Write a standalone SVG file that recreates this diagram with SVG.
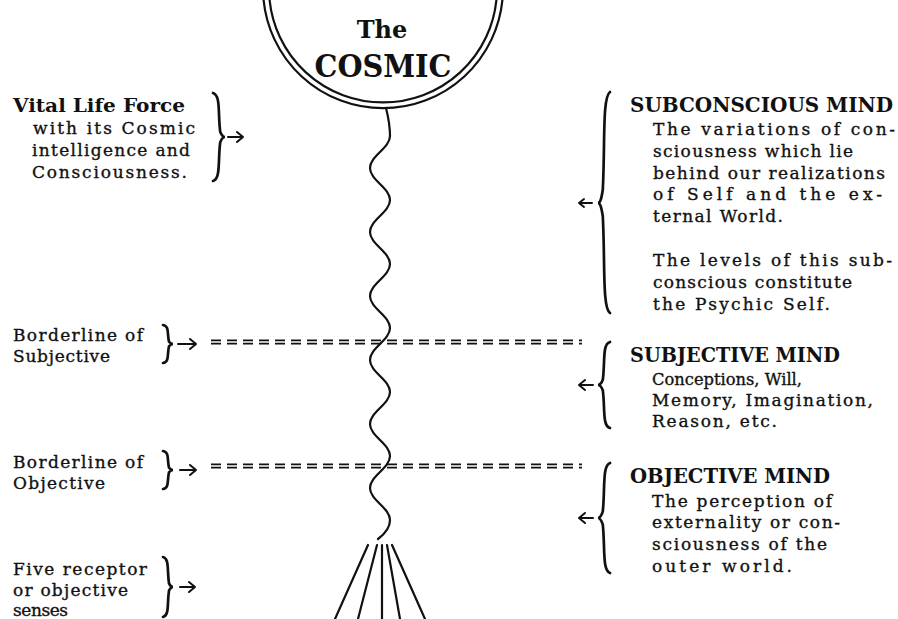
<svg xmlns="http://www.w3.org/2000/svg" width="898" height="619" viewBox="0 0 898 619">
<style>
text{font-family:"DejaVu Serif","Liberation Serif",serif;fill:#111}
.h{font-weight:bold}
.b{font-size:17px;stroke:#111;stroke-width:0.35}
.ln{fill:none;stroke:#111;stroke-width:2.2;stroke-linecap:round;stroke-linejoin:round}
.br{fill:none;stroke:#111;stroke-width:2.7;stroke-linecap:round}
.ar{fill:none;stroke:#111;stroke-width:2;stroke-linecap:round;stroke-linejoin:round}
.dl{fill:none;stroke:#111;stroke-width:1.7;stroke-dasharray:10 6}
</style>
<rect width="898" height="619" fill="#fff"/>

<g id="cosmic">
<path class="ln" d="M263.4,-2 A120,120 0 0 0 502.6,-2"/>
<path class="ln" d="M269.4,-2 A114,114 0 0 0 496.6,-2"/>
<text class="h" x="382" y="38" font-size="24" text-anchor="middle">The</text>
<text class="h" x="383" y="77" font-size="31" text-anchor="middle" textLength="137" lengthAdjust="spacingAndGlyphs">COSMIC</text>
</g>

<g id="vital-life-force">
<text class="h" x="13" y="112" font-size="19" textLength="172" lengthAdjust="spacingAndGlyphs">Vital Life Force</text>
<text class="b" x="33" y="134" textLength="162">with its Cosmic</text>
<text class="b" x="32" y="156" textLength="158">intelligence and</text>
<text class="b" x="32" y="178" textLength="155">Consciousness.</text>
<path class="br" d="M213,93 C220.8,95.2 217.8,112.8 220.2,131.7 C221.4,134.8 222.6,137 225,137 C222.6,137 221.4,139.2 220.2,142.3 C217.8,161.2 220.8,178.8 213,181"/>
</g>

<g id="borderline-subjective">
<text class="b" x="13" y="341" textLength="130">Borderline of</text>
<text class="b" x="13" y="362" textLength="97">Subjective</text>
<path class="br" d="M163,325 C169.5,326 167,333.6 169,341.7 C170,343 171,344 173,344 C171,344 170,345 169,346.3 C167,354.5 169.5,362 163,363"/>
</g>

<g id="borderline-objective">
<text class="b" x="13" y="468" textLength="130">Borderline of</text>
<text class="b" x="13" y="489" textLength="92">Objective</text>
<path class="br" d="M163,451 C169.5,452 167,459.6 169,467.7 C170,469 171,470 173,470 C171,470 170,471 169,472.3 C167,480.5 169.5,488 163,489"/>
</g>

<g id="five-senses">
<text class="b" x="13" y="575" textLength="134">Five receptor</text>
<text class="b" x="13" y="596" textLength="115">or objective</text>
<text class="b" x="13" y="616" textLength="55">senses</text>
<path class="br" d="M163,557 C169.5,558.5 167,570.5 169,583.4 C170,585.5 171,587 173,587 C171,587 170,588.5 169,590.6 C167,603.5 169.5,615.5 163,617"/>
</g>

<g id="subconscious-mind">
<path class="br" d="M610,92 C602.2,97.6 605.2,142 602.8,189.7 C601.6,197.5 600.4,203 598,203 C600.4,203 601.6,208.5 602.8,216.3 C605.2,263 602.2,307.5 610,313"/>
<text class="h" x="630" y="112" font-size="20" textLength="263" lengthAdjust="spacingAndGlyphs">SUBCONSCIOUS MIND</text>
<text class="b" x="653" y="135" textLength="242">The variations of con-</text>
<text class="b" x="653" y="157" textLength="200">sciousness which lie</text>
<text class="b" x="653" y="179" textLength="232">behind our realizations</text>
<text class="b" x="653" y="200" textLength="229">of Self and the ex-</text>
<text class="b" x="653" y="222" textLength="130">ternal World.</text>
<text class="b" x="653" y="266" textLength="239">The levels of this sub-</text>
<text class="b" x="653" y="288" textLength="199">conscious constitute</text>
<text class="b" x="653" y="310" textLength="177">the Psychic Self.</text>
</g>

<g id="subjective-mind">
<path class="br" d="M610,342 C602.2,344.2 605.2,361.4 602.8,379.8 C601.6,382.9 600.4,385 598,385 C600.4,385 601.6,387.1 602.8,390.2 C605.2,408.6 602.2,425.8 610,428"/>
<text class="h" x="630" y="362" font-size="20" textLength="210" lengthAdjust="spacingAndGlyphs">SUBJECTIVE MIND</text>
<text class="b" x="652" y="385" textLength="150" lengthAdjust="spacingAndGlyphs">Conceptions, Will,</text>
<text class="b" x="652" y="406" textLength="221">Memory, Imagination,</text>
<text class="b" x="652" y="427" textLength="125">Reason, etc.</text>
</g>

<g id="objective-mind">
<path class="br" d="M610,463 C602.2,465.8 605.2,487.8 602.8,511.4 C601.6,515.3 600.4,518 598,518 C600.4,518 601.6,520.8 602.8,524.6 C605.2,548.3 602.2,570.3 610,573"/>
<text class="h" x="630" y="483" font-size="20" textLength="200" lengthAdjust="spacingAndGlyphs">OBJECTIVE MIND</text>
<text class="b" x="652" y="507" textLength="180">The perception of</text>
<text class="b" x="652" y="528" textLength="188">externality or con-</text>
<text class="b" x="652" y="550" textLength="175">sciousness of the</text>
<text class="b" x="652" y="572" textLength="140">outer world.</text>
</g>

<g id="connectors">
<path class="ln" d="M386,108 C388,116 390,126 390,136 C390,148 370,156 370,168 C370,180 390,188 390,200 C390,212 370,220 370,232 C370,244 390,252 390,264 C390,276 370,284 370,296 C370,308 390,316 390,328 C390,340 370,348 370,360 C370,372 390,380 390,392 C390,404 370,412 370,424 C370,436 390,444 390,456 C390,468 370,476 370,488 C370,500 390,508 390,520 C390,527 386,533 378,539"/>
<path class="dl" d="M211,340.4 H582 M211,343.6 H582"/>
<path class="dl" d="M211,464.4 H582 M211,467.6 H582"/>
<path class="ln" d="M368,545 L335,619 M377,545 L358,619 M382,545 L382,619 M387,545 L400,619 M392,545 L425,619"/>
<path class="ar" d="M228,137 H243 M237,132 L243,137 L237,142"/>
<path class="ar" d="M178,344 H196 M190,339 L196,344 L190,349"/>
<path class="ar" d="M180,470 H196 M190,465 L196,470 L190,475"/>
<path class="ar" d="M180,587 H195 M189,582 L195,587 L189,592"/>
<path class="ar" d="M592,203 H579 M584,199 L579,203 L584,207"/>
<path class="ar" d="M593,385 H579 M585,380 L579,385 L585,390"/>
<path class="ar" d="M593,518 H579 M585,513 L579,518 L585,523"/>
</g>
</svg>
